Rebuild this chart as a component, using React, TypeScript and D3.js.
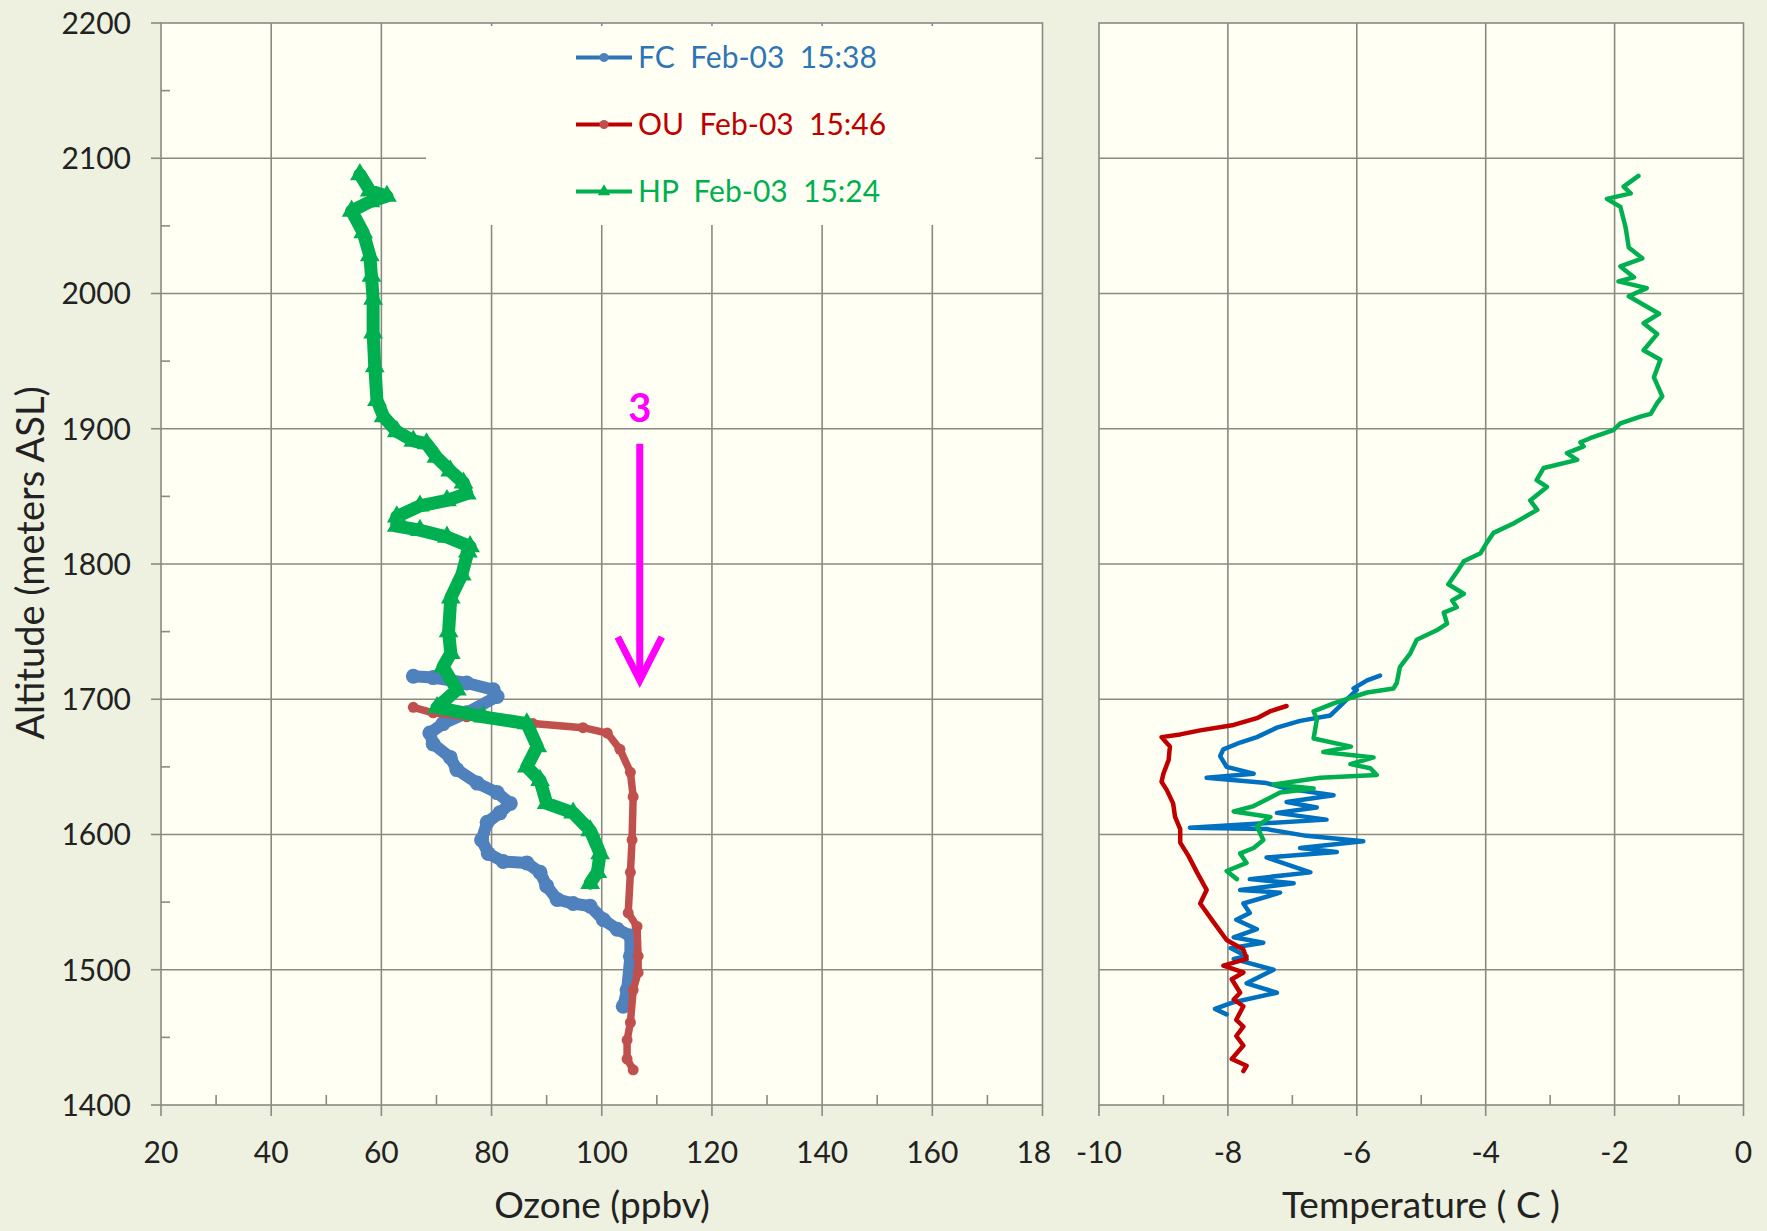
import React from 'react';
import * as d3 from 'd3';

// altitude (m ASL), ozone (ppbv)
const fcOzone: [number, number][] = [
  [1717, 65.8], [1716, 69.4], [1712, 75.5], [1707, 80.3], [1702, 81.0], [1690, 75.5],
  [1682, 71.2], [1675, 68.8], [1667, 69.4], [1657, 72.5], [1648, 73.7], [1638, 77.4],
  [1631, 81.0], [1623, 83.4], [1616, 81.5], [1609, 79.2], [1596, 78.2], [1586, 79.4],
  [1580, 82.1], [1579, 86.4], [1572, 88.8], [1562, 90.0], [1552, 91.9], [1549, 94.8],
  [1547, 97.9], [1537, 100.3], [1530, 102.8], [1525, 105.2], [1510, 105.2], [1485, 104.6],
  [1473, 103.9],
];
const ouOzone: [number, number][] = [
  [1694, 65.8], [1690, 69.4], [1687, 75.5], [1682, 87.5], [1679, 96.6], [1675, 101.0],
  [1663, 103.3], [1646, 105.2], [1628, 105.7], [1596, 105.5], [1572, 105.2], [1542, 104.8],
  [1532, 106.4], [1510, 106.6], [1498, 106.6], [1485, 105.7], [1461, 105.2], [1448, 104.6],
  [1434, 104.6], [1426, 105.7],
];
const hpOzone: [number, number][] = [
  [2088, 56.1], [2076, 57.9], [2072, 61.0], [2068, 58.0], [2061, 54.6], [2045, 56.7],
  [2028, 57.9], [2013, 58.2], [1996, 58.5], [1971, 58.5], [1946, 58.8], [1921, 59.2],
  [1909, 60.4], [1898, 62.8], [1891, 65.8], [1889, 68.2], [1879, 70.0], [1869, 72.5],
  [1860, 74.9], [1852, 75.5], [1847, 71.9], [1843, 67.0], [1835, 62.8], [1828, 62.8],
  [1825, 67.0], [1820, 71.9], [1813, 76.1], [1809, 75.7], [1792, 74.6], [1775, 72.6],
  [1750, 72.2], [1734, 72.6], [1724, 71.2], [1707, 73.7], [1694, 70.1], [1687, 78.5],
  [1682, 86.4], [1665, 88.3], [1650, 86.4], [1640, 88.8], [1623, 90.0], [1616, 94.8],
  [1603, 97.9], [1586, 99.7], [1572, 99.2], [1564, 97.9],
];

// altitude (m ASL), temperature (C)
const fcTemp: [number, number][] = [
  [1717.5, -5.64], [1714, -5.84], [1708, -6.05], [1707, -6.0], [1688, -6.41], [1684, -6.88],
  [1679, -7.24], [1672, -7.55], [1668, -7.81], [1663, -8.07], [1658, -8.12], [1650, -8.02],
  [1645, -7.6], [1642, -8.33], [1638, -7.4], [1634, -7.09], [1629, -6.36], [1624, -7.09],
  [1620, -6.62], [1616, -7.24], [1611, -6.47], [1605, -8.59], [1604, -7.4], [1599, -6.78],
  [1595, -5.9], [1590, -6.88], [1587, -6.31], [1583, -7.4], [1572, -6.72], [1567, -7.66],
  [1564, -6.98], [1559, -7.81], [1557, -7.19], [1549, -7.76], [1542, -7.66], [1537, -7.87],
  [1530, -7.55], [1524, -7.91], [1520, -7.45], [1516, -7.96], [1510, -7.71], [1508, -7.91],
  [1500, -7.29], [1490, -7.71], [1483, -7.24], [1476, -7.91], [1471, -8.2], [1467, -8.02],
];
const ouTemp: [number, number][] = [
  [1695, -7.09], [1691, -7.35], [1686, -7.55], [1681, -7.91], [1677, -8.43], [1674, -8.74],
  [1672, -9.03], [1665, -8.9], [1655, -8.92], [1645, -9.0], [1639, -9.03], [1633, -8.95],
  [1623, -8.85], [1613, -8.82], [1604, -8.74], [1594, -8.74], [1584, -8.61], [1572, -8.48],
  [1559, -8.33], [1549, -8.43], [1535, -8.22], [1522, -8.02], [1515, -7.76], [1508, -7.71],
  [1503, -8.07], [1498, -7.76], [1493, -7.94], [1483, -7.81], [1478, -7.91], [1473, -7.76],
  [1463, -7.87], [1458, -7.76], [1451, -7.87], [1444, -7.76], [1434, -7.94], [1429, -7.71],
  [1425, -7.76],
];
const hpTemp: [number, number][] = [
  [2087, -1.63], [2079, -1.86], [2074, -1.75], [2070, -2.12], [2064, -1.91], [2049, -1.83],
  [2034, -1.78], [2026, -1.57], [2020, -1.91], [2012, -1.7], [2009, -1.94], [2004, -1.5],
  [1998, -1.78], [1985, -1.31], [1978, -1.55], [1970, -1.34], [1958, -1.55], [1951, -1.29],
  [1938, -1.39], [1924, -1.26], [1919, -1.34], [1911, -1.44], [1909, -1.6], [1904, -1.91],
  [1899, -2.02], [1893, -2.38], [1890, -2.53], [1887, -2.48], [1882, -2.74], [1877, -2.58],
  [1871, -3.1], [1862, -3.21], [1857, -3.05], [1847, -3.31], [1840, -3.2], [1830, -3.57],
  [1823, -3.88], [1816, -3.98], [1808, -4.08], [1802, -4.34], [1796, -4.42], [1785, -4.58],
  [1778, -4.34], [1773, -4.52], [1768, -4.45], [1764, -4.65], [1756, -4.6], [1751, -4.76],
  [1744, -5.07], [1734, -5.17], [1724, -5.33], [1712, -5.38], [1708, -5.43], [1705, -5.84],
  [1697, -6.36], [1691, -6.67], [1685, -6.62], [1671, -6.67], [1665, -6.09], [1661, -6.52],
  [1657, -5.74], [1652, -6.1], [1649, -5.79], [1644, -5.69], [1642, -6.57], [1637, -7.29],
  [1634, -6.67], [1631, -7.19], [1621, -7.6], [1617, -7.91], [1613, -7.34], [1606, -7.55],
  [1596, -7.45], [1590, -7.6], [1586, -7.81], [1579, -7.71], [1573, -8.02], [1567, -7.86],
];

const altTicks = [1400, 1500, 1600, 1700, 1800, 1900, 2000, 2100, 2200];
const altMinor = [1450, 1550, 1650, 1750, 1850, 1950, 2050, 2150];
const ozoneTicks = [20, 40, 60, 80, 100, 120, 140, 160, 180];
const ozoneMinor = [30, 50, 70, 90, 110, 130, 150, 170];
const tempTicks = [-10, -8, -6, -4, -2, 0];
const tempMinor = [-9, -7, -5, -3, -1];

const legendItems = [
  { label: 'FC  Feb-03  15:38', text: '#2E75B6', line: '#2E75B6', marker: '#4F81BD', shape: 'circle' },
  { label: 'OU  Feb-03  15:46', text: '#C00000', line: '#C00000', marker: '#C0504D', shape: 'circle' },
  { label: 'HP  Feb-03  15:24', text: '#00B050', line: '#00B050', marker: '#00B050', shape: 'triangle' },
];

const W = 1767;
const H = 1231;
const BG = '#EEF1DF';
const PLOT = '#FFFFF3';
const GRID = '#8A8A84';
const FONT = 'Lato, "Open Sans", sans-serif';

const App = () => {
  const y = d3.scaleLinear().domain([1400, 2200]).range([1105, 23]);
  const xO = d3.scaleLinear().domain([20, 180]).range([161, 1042.5]);
  const xT = d3.scaleLinear().domain([-10, 0]).range([1099, 1743.5]);

  const ozLine = d3.line<[number, number]>().x(d => xO(d[1])).y(d => y(d[0]));
  const tLine = d3.line<[number, number]>().x(d => xT(d[1])).y(d => y(d[0]));
  const tri = d3.symbol().type(d3.symbolTriangle).size(170)() as string;
  const triSmall = d3.symbol().type(d3.symbolTriangle).size(70)() as string;

  const [oTop, oBot] = [y(2200), y(1400)];
  const legend = { x0: 426, x1: 1035, y0: 26, y1: 225 };

  return (
    <svg width={W} height={H} style={{ position: 'absolute', left: 0, top: 0, display: 'block' }}
      fontFamily={FONT}>
      <rect width={W} height={H} fill={BG} />

      {/* ---------- Ozone panel ---------- */}
      <rect x={xO(20)} y={oTop} width={xO(180) - xO(20)} height={oBot - oTop} fill={PLOT} />
      {ozoneTicks.slice(1, -1).map(t => (
        <line key={'og' + t} x1={xO(t)} x2={xO(t)} y1={oTop} y2={oBot} stroke={GRID} strokeWidth={1.6} />
      ))}
      {altTicks.slice(1, -1).map(t => (
        <line key={'ag' + t} x1={xO(20)} x2={xO(180)} y1={y(t)} y2={y(t)} stroke={GRID} strokeWidth={1.6} />
      ))}
      {/* legend box */}
      <rect x={legend.x0} y={legend.y0} width={legend.x1 - legend.x0} height={legend.y1 - legend.y0} fill={PLOT} />
      {/* frame */}
      <rect x={xO(20)} y={oTop} width={xO(180) - xO(20)} height={oBot - oTop} fill="none" stroke={GRID} strokeWidth={1.6} />
      {altTicks.map(t => (
        <line key={'at' + t} x1={xO(20) - 10} x2={xO(20)} y1={y(t)} y2={y(t)} stroke={GRID} strokeWidth={1.6} />
      ))}
      {altMinor.map(t => (
        <line key={'am' + t} x1={xO(20)} x2={xO(20) + 9} y1={y(t)} y2={y(t)} stroke={GRID} strokeWidth={1.6} />
      ))}
      {ozoneTicks.map(t => (
        <line key={'ot' + t} x1={xO(t)} x2={xO(t)} y1={oBot} y2={oBot + 11} stroke={GRID} strokeWidth={1.6} />
      ))}
      {ozoneMinor.map(t => (
        <line key={'om' + t} x1={xO(t)} x2={xO(t)} y1={oBot} y2={oBot - 10} stroke={GRID} strokeWidth={1.6} />
      ))}

      {/* FC ozone */}
      <path d={ozLine(fcOzone) || ''} fill="none" stroke="#4F81BD" strokeWidth={12} strokeLinejoin="round" strokeLinecap="round" />
      {fcOzone.map((d, i) => (
        <circle key={'fc' + i} cx={xO(d[1])} cy={y(d[0])} r={7.5} fill="#4F81BD" />
      ))}
      {/* OU ozone */}
      <path d={ozLine(ouOzone) || ''} fill="none" stroke="#C0504D" strokeWidth={7.5} strokeLinejoin="round" strokeLinecap="round" />
      {ouOzone.map((d, i) => (
        <circle key={'ou' + i} cx={xO(d[1])} cy={y(d[0])} r={5.5} fill="#C0504D" />
      ))}
      {/* HP ozone */}
      <path d={ozLine(hpOzone) || ''} fill="none" stroke="#00B050" strokeWidth={13} strokeLinejoin="round" strokeLinecap="round" />
      {hpOzone.map((d, i) => (
        <path key={'hp' + i} d={tri} transform={`translate(${xO(d[1])},${y(d[0])})`} fill="#00B050" />
      ))}

      {/* legend entries */}
      {legendItems.map((it, i) => {
        const cy = 57.5 + i * 67;
        return (
          <g key={it.label}>
            <line x1={576} x2={632} y1={cy} y2={cy} stroke={it.line} strokeWidth={4} />
            {it.shape === 'circle'
              ? <circle cx={604} cy={cy} r={4.5} fill={it.marker} />
              : <path d={triSmall} transform={`translate(604,${cy})`} fill={it.marker} />}
            <text x={638} y={cy} dy="0.36em" fontSize={30} fill={it.text} style={{ whiteSpace: 'pre' }}>{it.label}</text>
          </g>
        );
      })}

      {/* annotation */}
      <text x={xO(106.9)} y={y(1905)} textAnchor="middle" fontSize={40} fontWeight="bold" fill="#FF00FF">3</text>
      <line x1={xO(106.9)} x2={xO(106.9)} y1={y(1889)} y2={y(1716)} stroke="#FF00FF" strokeWidth={7} />
      <polyline
        points={`${xO(102.9)},${y(1746)} ${xO(106.9)},${y(1714)} ${xO(110.9)},${y(1746)}`}
        fill="none" stroke="#FF00FF" strokeWidth={7} strokeLinejoin="miter" />

      {/* axis labels */}
      {altTicks.map(t => (
        <text key={'al' + t} x={131} y={y(t)} dy="0.36em" textAnchor="end" fontSize={30} fill="#222">{t}</text>
      ))}
      {ozoneTicks.map(t => (
        <text key={'ol' + t} x={xO(t)} y={1163} textAnchor="middle" fontSize={30} fill="#222">{t}</text>
      ))}
      <text x={602} y={1218} textAnchor="middle" fontSize={37} fill="#222">Ozone (ppbv)</text>
      <text transform={`translate(44,${563}) rotate(-90)`} textAnchor="middle" fontSize={38} fill="#222">Altitude (meters ASL)</text>

      {/* ---------- Temperature panel ---------- */}
      <rect x={1051} y={0} width={W - 1051} height={H} fill={BG} />
      <rect x={xT(-10)} y={oTop} width={xT(0) - xT(-10)} height={oBot - oTop} fill={PLOT} />
      {tempTicks.slice(1, -1).map(t => (
        <line key={'tg' + t} x1={xT(t)} x2={xT(t)} y1={oTop} y2={oBot} stroke={GRID} strokeWidth={1.6} />
      ))}
      {altTicks.slice(1, -1).map(t => (
        <line key={'tag' + t} x1={xT(-10)} x2={xT(0)} y1={y(t)} y2={y(t)} stroke={GRID} strokeWidth={1.6} />
      ))}
      <rect x={xT(-10)} y={oTop} width={xT(0) - xT(-10)} height={oBot - oTop} fill="none" stroke={GRID} strokeWidth={1.6} />
      {tempTicks.map(t => (
        <line key={'tt' + t} x1={xT(t)} x2={xT(t)} y1={oBot} y2={oBot + 11} stroke={GRID} strokeWidth={1.6} />
      ))}
      {tempMinor.map(t => (
        <line key={'tm' + t} x1={xT(t)} x2={xT(t)} y1={oBot} y2={oBot - 10} stroke={GRID} strokeWidth={1.6} />
      ))}

      <path d={tLine(fcTemp) || ''} fill="none" stroke="#0070C0" strokeWidth={4.5} strokeLinejoin="round" strokeLinecap="round" />
      <path d={tLine(ouTemp) || ''} fill="none" stroke="#C00000" strokeWidth={4.5} strokeLinejoin="round" strokeLinecap="round" />
      <path d={tLine(hpTemp) || ''} fill="none" stroke="#00B050" strokeWidth={4.5} strokeLinejoin="round" strokeLinecap="round" />

      {tempTicks.map(t => (
        <text key={'tl' + t} x={xT(t)} y={1163} textAnchor="middle" fontSize={30} fill="#222">{t}</text>
      ))}
      <text x={1421} y={1218} textAnchor="middle" fontSize={37} fill="#222" style={{ whiteSpace: 'pre' }}>Temperature ( C )</text>
    </svg>
  );
};

export default App;
